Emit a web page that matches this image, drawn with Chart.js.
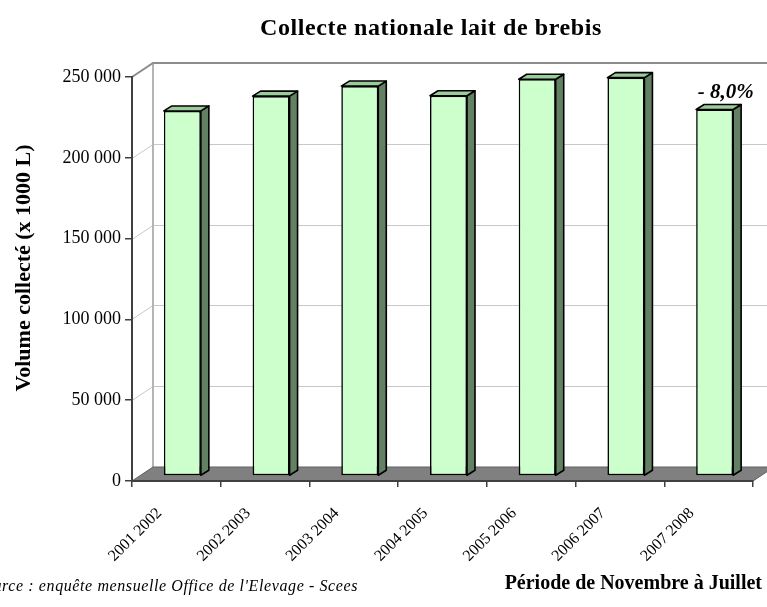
<!DOCTYPE html>
<html lang="fr">
<head>
<meta charset="utf-8">
<title>Collecte nationale lait de brebis</title>
<script src="https://cdn.jsdelivr.net/npm/chart.js@4"></script>
<style>
  html, body { margin: 0; padding: 0; background: #ffffff; }
  canvas { display: block; }
</style>
</head>
<body>
<canvas id="chart" width="767" height="607"></canvas>
<script>
// Campaigns (November to July) and collected volume, in thousands of litres
const campaigns = ['2001 2002', '2002 2003', '2003 2004', '2004 2005', '2005 2006', '2006 2007', '2007 2008'];
const volumes = [225900, 235100, 241300, 235300, 245500, 246500, 226800];
const yTickValues = [0, 50000, 100000, 150000, 200000, 250000];

const chartTitle = 'Collecte nationale lait de brebis';
const yTitle = 'Volume collecté (x 1000 L)';
const sourceNote = "Source : enquête mensuelle Office de l'Elevage - Scees";
const periodNote = 'Période de Novembre à Juillet';

// 3D look: depth of the box and placement/depth of the columns
const BOX_DEPTH = { dx: 21, dy: -14 };
const COL_SHIFT = { dx: 6, dy: -5 };
const COL_DEPTH = { dx: 8, dy: -5 };

const SERIF = "'Liberation Serif', 'Times New Roman', serif";
Chart.defaults.font.family = SERIF;
Chart.defaults.color = '#000000';

function fmtThousands(v) {
  return String(Math.round(v)).replace(/\B(?=(\d{3})+(?!\d))/g, ' ');
}

function poly(ctx, pts, fill, stroke, lw) {
  ctx.beginPath();
  ctx.moveTo(pts[0][0], pts[0][1]);
  for (let i = 1; i < pts.length; i++) ctx.lineTo(pts[i][0], pts[i][1]);
  ctx.closePath();
  if (fill) { ctx.fillStyle = fill; ctx.fill(); }
  if (stroke) { ctx.strokeStyle = stroke; ctx.lineWidth = lw || 1; ctx.stroke(); }
}

const box3d = {
  id: 'box3d',
  beforeDraw(chart) {
    const { ctx, chartArea: { left, right, top, bottom }, scales: { y } } = chart;
    const { dx, dy } = BOX_DEPTH;
    ctx.save();
    // back wall grid lines + their continuation on the left wall
    ctx.lineWidth = 1;
    ctx.strokeStyle = '#c8c8c8';
    yTickValues.forEach(v => {
      if (v === 0 || v === yTickValues[yTickValues.length - 1]) return;
      const py = Math.round(y.getPixelForValue(v)) + 0.5;
      ctx.beginPath();
      ctx.moveTo(left, py);
      ctx.lineTo(left + dx, py + dy);
      ctx.lineTo(right + dx, py + dy);
      ctx.stroke();
    });
    // back wall left edge
    ctx.strokeStyle = '#b4b4b4';
    ctx.lineWidth = 2;
    ctx.beginPath();
    ctx.moveTo(left + dx, top + dy);
    ctx.lineTo(left + dx, bottom + dy);
    ctx.stroke();
    // top edge of the box
    ctx.strokeStyle = '#8c8c8c';
    ctx.lineWidth = 2;
    ctx.beginPath();
    ctx.moveTo(left, top);
    ctx.lineTo(left + dx, top + dy);
    ctx.lineTo(right + dx + 20, top + dy);
    ctx.stroke();
    // floor
    poly(ctx, [[left, bottom], [right, bottom], [right + dx, bottom + dy], [left + dx, bottom + dy]], '#808080', '#606060', 1);
    ctx.restore();
  },
  beforeDatasetsDraw(chart) {
    chart.ctx.save();
    chart.ctx.translate(COL_SHIFT.dx, COL_SHIFT.dy);
  },
  afterDatasetsDraw(chart) {
    const { ctx } = chart;
    const meta = chart.getDatasetMeta(0);
    const { dx, dy } = COL_DEPTH;
    ctx.lineJoin = 'round';
    meta.data.forEach(bar => {
      const { x, y, base, width } = bar.getProps(['x', 'y', 'base', 'width'], true);
      const l = x - width / 2, r = x + width / 2;
      poly(ctx, [[r, y], [r + dx, y + dy], [r + dx, base + dy], [r, base]], '#628062', '#000000', 1.6);
      poly(ctx, [[l, y], [l + dx, y + dy], [r + dx, y + dy], [r, y]], '#99cc99', '#000000', 1.6);
    });
    ctx.restore();

    // change of the last campaign against the previous one
    const n = volumes.length;
    const change = (volumes[n - 1] / volumes[n - 2] - 1) * 100;
    const label = (change < 0 ? '- ' : '+ ') + Math.abs(change).toFixed(1).replace('.', ',') + '%';
    const last = meta.data[n - 1].getProps(['x', 'y'], true);
    ctx.save();
    ctx.font = `italic bold 21px ${SERIF}`;
    ctx.fillStyle = '#000000';
    ctx.textAlign = 'center';
    ctx.textBaseline = 'alphabetic';
    ctx.fillText(label, last.x + COL_SHIFT.dx + 11, last.y + COL_SHIFT.dy - 11);
    ctx.restore();
  },
  afterDraw(chart) {
    const { ctx } = chart;
    ctx.save();
    ctx.fillStyle = '#000000';
    ctx.textBaseline = 'alphabetic';

    ctx.font = `bold 24px ${SERIF}`;
    ctx.textAlign = 'center';
    ctx.letterSpacing = '0.6px';
    ctx.fillText(chartTitle, 431, 35);

    ctx.letterSpacing = '0px';
    ctx.save();
    ctx.translate(24, 268);
    ctx.rotate(-Math.PI / 2);
    ctx.font = `bold 22px ${SERIF}`;
    ctx.textAlign = 'center';
    ctx.textBaseline = 'middle';
    ctx.fillText(yTitle, 0, 0);
    ctx.restore();

    ctx.font = `italic 16px ${SERIF}`;
    ctx.textAlign = 'right';
    ctx.letterSpacing = '0.6px';
    ctx.fillText(sourceNote, 358, 591);

    ctx.letterSpacing = '0px';
    ctx.font = `bold 20px ${SERIF}`;
    ctx.textAlign = 'right';
    ctx.fillText(periodNote, 762, 589);
    ctx.restore();
  }
};

new Chart(document.getElementById('chart'), {
  type: 'bar',
  data: {
    labels: campaigns,
    datasets: [{
      data: volumes,
      backgroundColor: '#ccffcc',
      borderColor: '#000000',
      borderWidth: 1.6,
      borderSkipped: false,
      categoryPercentage: 1,
      barPercentage: 0.417
    }]
  },
  options: {
    responsive: false,
    animation: false,
    devicePixelRatio: 1,
    layout: { padding: { left: 0, right: 14, top: 77, bottom: 0 } },
    plugins: {
      legend: { display: false },
      title: { display: false },
      tooltip: { enabled: false }
    },
    scales: {
      x: {
        grid: { display: true, drawOnChartArea: false, drawTicks: true, tickLength: 6, color: '#404040', lineWidth: 1.5, offset: true },
        border: { display: true, color: '#404040', width: 2 },
        ticks: {
          font: { size: 16 },
          color: '#000000',
          maxRotation: 45,
          minRotation: 45,
          padding: 17,
          labelOffset: -17,
          autoSkip: false
        },
        afterFit(scale) { scale.height = 126; }
      },
      y: {
        min: 0,
        max: 250000,
        afterBuildTicks(scale) { scale.ticks = yTickValues.map(v => ({ value: v })); },
        grid: { display: true, drawOnChartArea: false, drawTicks: true, tickLength: 7, color: '#404040', lineWidth: 1.5 },
        border: { display: true, color: '#404040', width: 2 },
        ticks: {
          font: { size: 18 },
          color: '#000000',
          padding: 4,
          callback: v => fmtThousands(v)
        },
        afterFit(scale) { scale.width = 132; }
      }
    }
  },
  plugins: [box3d]
});
</script>
</body>
</html>
